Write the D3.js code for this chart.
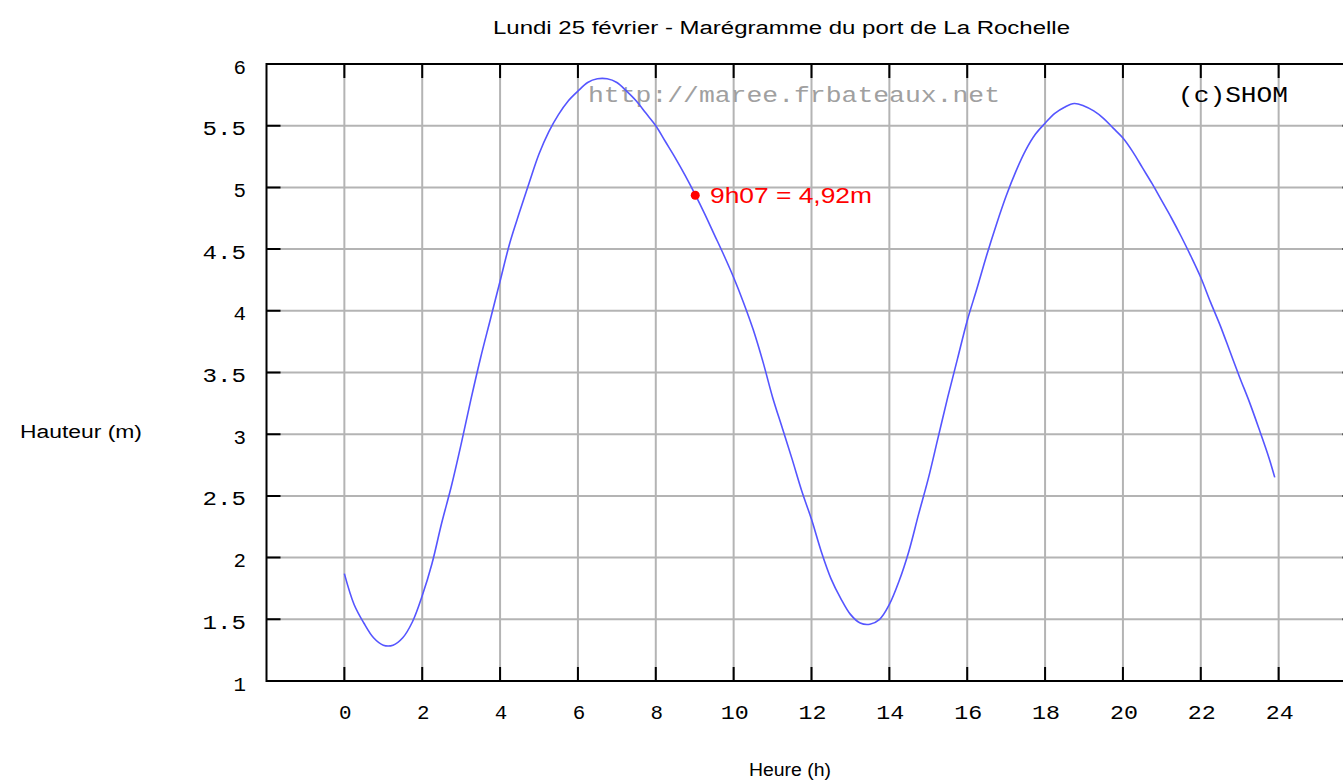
<!DOCTYPE html>
<html>
<head>
<meta charset="utf-8">
<script src="https://cdn.jsdelivr.net/npm/d3@7"></script>
<style>
  body { margin: 0; background: #fff; }
  svg { display: block; }
</style>
</head>
<body>
<div id="chart"></div>
<script>
var hours = [0, 0.25, 0.5, 0.75, 1, 1.25, 1.5, 1.75, 2, 2.25, 2.5, 2.75, 3, 3.25, 3.5, 3.75,
  4, 4.25, 4.5, 4.75, 5, 5.25, 5.5, 5.75, 6, 6.25, 6.5, 6.75, 7, 7.25, 7.5, 7.75,
  8, 8.25, 8.5, 8.75, 9, 9.25, 9.5, 9.75, 10, 10.25, 10.5, 10.75, 11, 11.25, 11.5, 11.75,
  12, 12.25, 12.5, 12.75, 13, 13.25, 13.5, 13.75, 14, 14.25, 14.5, 14.75, 15, 15.25, 15.5, 15.75,
  16, 16.25, 16.5, 16.75, 17, 17.25, 17.5, 17.75, 18, 18.25, 18.5, 18.75, 19, 19.25, 19.5, 19.75,
  20, 20.25, 20.5, 20.75, 21, 21.25, 21.5, 21.75, 22, 22.25, 22.5, 22.75, 23, 23.25, 23.5, 23.75, 23.9];
var heights = [1.87, 1.62, 1.47, 1.35, 1.29, 1.29, 1.35, 1.48, 1.69, 1.95, 2.28, 2.58, 2.92, 3.28, 3.62, 3.93,
  4.24, 4.55, 4.80, 5.04, 5.27, 5.45, 5.59, 5.70, 5.78, 5.85, 5.88, 5.88, 5.85, 5.78, 5.70, 5.60,
  5.50, 5.37, 5.24, 5.10, 4.95, 4.79, 4.62, 4.45, 4.27, 4.07, 3.85, 3.59, 3.30, 3.05, 2.80, 2.54,
  2.31, 2.05, 1.83, 1.67, 1.54, 1.47, 1.46, 1.50, 1.62, 1.81, 2.05, 2.35, 2.64, 2.97, 3.30, 3.61,
  3.92, 4.18, 4.45, 4.70, 4.93, 5.13, 5.30, 5.43, 5.52, 5.60, 5.65, 5.68, 5.66, 5.62, 5.56, 5.48,
  5.40, 5.29, 5.16, 5.03, 4.89, 4.75, 4.60, 4.44, 4.27, 4.07, 3.88, 3.67, 3.46, 3.26, 3.04, 2.81, 2.65];

var xTicks = [0, 2, 4, 6, 8, 10, 12, 14, 16, 18, 20, 22, 24, 26];
var xTickLabels = ["0", "2", "4", "6", "8", "10", "12", "14", "16", "18", "20", "22", "24", ""];
var yTicks = [1, 1.5, 2, 2.5, 3, 3.5, 4, 4.5, 5, 5.5, 6];
var yTickLabels = ["1", "1.5", "2", "2.5", "3", "3.5", "4", "4.5", "5", "5.5", "6"];

// the marked instant
var markHour = [9 + 7 / 60];
var markHeight = [4.92];
var markLabel = ["9h07 = 4,92m"];

var svgWidth = 1343;
var svgHeight = 781;

var svg = d3.select("#chart")
  .append("svg")
  .attr("width", svgWidth)
  .attr("height", svgHeight);

// scales (plot frame runs past the right edge of the picture)
var x = d3.scaleLinear().domain([-2, 26]).range([266.5, 1356.5]);
var y = d3.scaleLinear().domain([1, 6]).range([681, 64]);

var pixFont = "'Liberation Mono', 'DejaVu Sans Mono', monospace";
var sans = "'Liberation Sans', Arial, sans-serif";
var charW = 15.5;
var tickLen = 14;

// grid
svg.append("g")
  .selectAll("line")
  .data(xTicks)
  .enter()
  .append("line")
  .attr("x1", d => x(d)).attr("x2", d => x(d))
  .attr("y1", y(6)).attr("y2", y(1))
  .attr("stroke", "#b4b4b4")
  .attr("stroke-width", 2);

svg.append("g")
  .selectAll("line")
  .data(yTicks.slice(1, -1))
  .enter()
  .append("line")
  .attr("x1", x(-2)).attr("x2", x(26))
  .attr("y1", d => y(d)).attr("y2", d => y(d))
  .attr("stroke", "#b4b4b4")
  .attr("stroke-width", 2);

// frame
var frame = svg.append("g")
  .attr("stroke", "#000")
  .attr("stroke-width", 2)
  .attr("fill", "none");

frame.append("rect")
  .attr("x", x(-2)).attr("y", y(6))
  .attr("width", x(26) - x(-2))
  .attr("height", y(1) - y(6));

// inward ticks on all four sides
frame.selectAll(".tb")
  .data(xTicks.slice(0, -1))
  .enter()
  .append("path")
  .attr("d", d => `M${x(d)},${y(6)}v${tickLen}M${x(d)},${y(1)}v${-tickLen}`);

frame.selectAll(".lr")
  .data(yTicks.slice(1, -1))
  .enter()
  .append("path")
  .attr("d", d => `M${x(-2)},${y(d)}h${tickLen}M${x(26)},${y(d)}h${-tickLen}`);

// tick labels
svg.append("g")
  .selectAll("text")
  .data(yTicks)
  .enter()
  .append("text")
  .attr("x", 246)
  .attr("y", d => y(d) + 9.5)
  .attr("text-anchor", "end")
  .attr("font-family", pixFont)
  .attr("font-size", 21)
  .attr("textLength", (d, i) => yTickLabels[i].length * charW - 3)
  .attr("lengthAdjust", "spacingAndGlyphs")
  .text((d, i) => yTickLabels[i]);

svg.append("g")
  .selectAll("text")
  .data(xTicks.slice(0, -1))
  .enter()
  .append("text")
  .attr("x", d => x(d) + 1)
  .attr("y", 719)
  .attr("text-anchor", "middle")
  .attr("font-family", pixFont)
  .attr("font-size", 21)
  .attr("textLength", (d, i) => xTickLabels[i].length * charW - 3)
  .attr("lengthAdjust", "spacingAndGlyphs")
  .text((d, i) => xTickLabels[i]);

// watermark + copyright
svg.append("text")
  .attr("x", 588).attr("y", 102)
  .attr("font-family", pixFont)
  .attr("font-size", 22)
  .attr("fill", "#a0a0a0")
  .attr("textLength", 412)
  .attr("lengthAdjust", "spacingAndGlyphs")
  .text("http://maree.frbateaux.net");

svg.append("text")
  .attr("x", 1178).attr("y", 102)
  .attr("font-family", pixFont)
  .attr("font-size", 22)
  .attr("fill", "#000")
  .attr("textLength", 110)
  .attr("lengthAdjust", "spacingAndGlyphs")
  .text("(c)SHOM");

// tide curve
var line = d3.line()
  .x(d => x(d[0]))
  .y(d => y(d[1]))
  .curve(d3.curveCatmullRom.alpha(0.5));

svg.append("path")
  .datum(d3.zip(hours, heights))
  .attr("d", line)
  .attr("fill", "none")
  .attr("stroke", "#5555ff")
  .attr("stroke-width", 1.6);

// red marker
svg.append("circle")
  .attr("cx", x(markHour[0]) - 4)
  .attr("cy", y(markHeight[0]) - 2)
  .attr("r", 4.5)
  .attr("fill", "#ff0000");

svg.append("text")
  .attr("x", 710)
  .attr("y", y(markHeight[0]) + 6)
  .attr("font-family", sans)
  .attr("font-size", 22)
  .attr("fill", "#ff0000")
  .attr("textLength", 162)
  .attr("lengthAdjust", "spacingAndGlyphs")
  .text(markLabel[0]);

// titles
svg.append("text")
  .attr("x", 493).attr("y", 34)
  .attr("font-family", sans)
  .attr("font-size", 18)
  .attr("textLength", 577)
  .attr("lengthAdjust", "spacingAndGlyphs")
  .text("Lundi 25 février - Marégramme du port de La Rochelle");

svg.append("text")
  .attr("x", 20).attr("y", 438)
  .attr("font-family", sans)
  .attr("font-size", 18)
  .attr("textLength", 122)
  .attr("lengthAdjust", "spacingAndGlyphs")
  .text("Hauteur (m)");

svg.append("text")
  .attr("x", 749).attr("y", 776)
  .attr("font-family", sans)
  .attr("font-size", 18)
  .attr("textLength", 82)
  .attr("lengthAdjust", "spacingAndGlyphs")
  .text("Heure (h)");
</script>
</body>
</html>
